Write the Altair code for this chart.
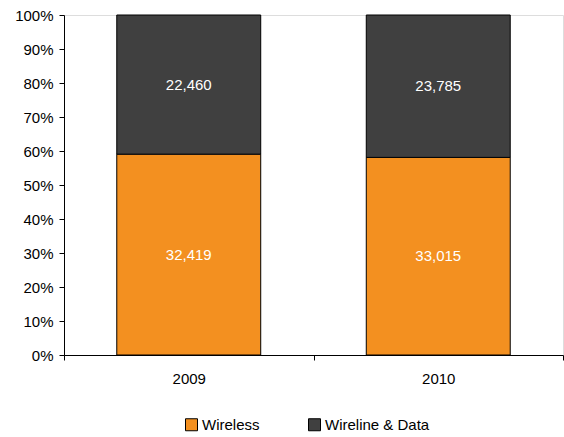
import altair as alt
import pandas as pd

# Revenue by segment (in millions), shown as shares of each year's total
years = ["2009", "2009", "2010", "2010"]
segments = ["Wireless", "Wireline & Data", "Wireless", "Wireline & Data"]
revenue = [32419, 22460, 33015, 23785]
stack_order = [0, 1, 0, 1]
pct_ticks = [0.0, 0.1, 0.2, 0.3, 0.4, 0.5, 0.6, 0.7, 0.8, 0.9, 1.0]

df = pd.DataFrame({"year": years, "segment": segments, "revenue": revenue, "order": stack_order})

FONT = "Liberation Sans"
FS = 15
seg_domain = ["Wireless", "Wireline & Data"]
seg_colors = ["#F39020", "#404040"]

base = alt.Chart(df).transform_stack(
    stack="revenue",
    groupby=["year"],
    as_=["y0", "y1"],
    offset="normalize",
    sort=[alt.SortField("order", order="ascending")],
).transform_calculate(mid="(datum.y0 + datum.y1) / 2")

x_axis = alt.Axis(
    labelAngle=0,
    tickBand="extent",
    domainColor="black",
    tickColor="black",
    tickSize=5,
    labelPadding=11,
    labelFontSize=FS,
    labelFont=FONT,
    labelColor="black",
)
x_scale = alt.Scale(paddingInner=0, paddingOuter=0)

y_axis = alt.Axis(
    format="%",
    values=pct_ticks,
    labelOverlap=False,
    grid=False,
    domainColor="black",
    tickColor="black",
    tickSize=5,
    labelPadding=6,
    labelFontSize=FS,
    labelFont=FONT,
    labelColor="black",
)
y_scale = alt.Scale(domain=[0, 1], nice=False)

bars = base.mark_bar(
    stroke="black", strokeWidth=1, width=alt.RelativeBandSize(0.577)
).encode(
    x=alt.X("year:N", title=None, scale=x_scale, axis=x_axis),
    y=alt.Y("y0:Q", title=None, scale=y_scale, axis=y_axis),
    y2="y1:Q",
    color=alt.Color(
        "segment:N",
        scale=alt.Scale(domain=seg_domain, range=seg_colors),
        legend=alt.Legend(
            title=None,
            orient="none",
            direction="horizontal",
            legendX=120,
            legendY=402,
            symbolType="square",
            symbolSize=144,
            symbolStrokeColor="black",
            symbolStrokeWidth=1,
            symbolOpacity=1,
            labelFontSize=FS,
            labelFont=FONT,
            labelColor="black",
            labelOffset=3,
            columnPadding=46,
            padding=0,
        ),
    ),
    order=alt.Order("order:Q"),
)

labels = base.mark_text(color="white", fontSize=FS, font=FONT).encode(
    x=alt.X("year:N", title=None, scale=x_scale, axis=x_axis),
    y=alt.Y("mid:Q", title=None, scale=y_scale, axis=y_axis),
    text=alt.Text("revenue:Q", format=","),
)

chart = (
    alt.layer(bars, labels)
    .properties(
        width=499,
        height=340,
        autosize=alt.AutoSizeParams(type="none"),
        padding={"left": 64, "top": 15, "right": 1, "bottom": 82},
    )
    .configure_view(stroke=None)
    .configure(background="white")
)

chart.save("out.html", embed_options={"renderer": "svg", "actions": False})
